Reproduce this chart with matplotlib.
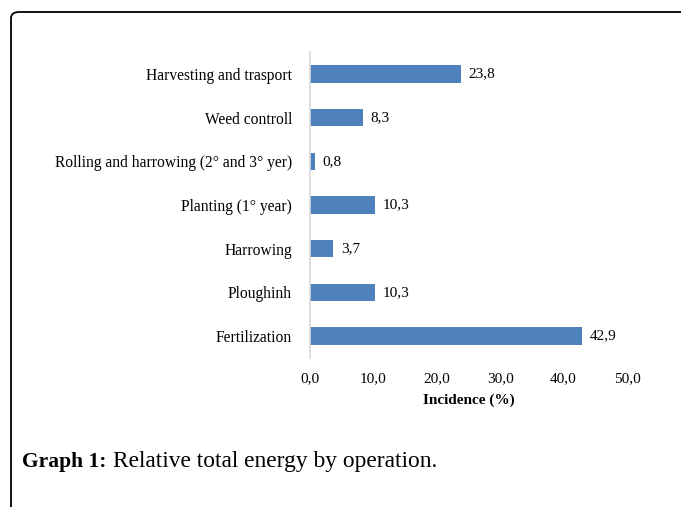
import matplotlib.pyplot as plt
from matplotlib.patches import FancyBboxPatch

# data, bottom to top as drawn
operations = ['Fertilization', 'Ploughinh', 'Harrowing', 'Planting (1° year)',
              'Rolling and harrowing (2° and 3° yer)', 'Weed controll',
              'Harvesting and trasport']
incidence = [42.9, 10.3, 3.7, 10.3, 0.8, 8.3, 23.8]
x_ticks = [0, 10, 20, 30, 40, 50]

plt.rcParams['font.family'] = ['Liberation Serif', 'DejaVu Serif']

W, H = 681, 507
fig = plt.figure(figsize=(W / 100, H / 100), dpi=100)

# rounded frame around the figure, cut off at right and bottom
frame = FancyBboxPatch((11 / W, -0.2), 1.2, 1 - 12 / H + 0.2,
                       boxstyle='round,pad=0,rounding_size=0.012',
                       transform=fig.transFigure, fill=False,
                       edgecolor='black', linewidth=1.3)
fig.patches.append(frame)

ax = fig.add_axes([310 / W, 1 - 358 / H, (627 - 310) / W, (358 - 52) / H])
pos = range(len(operations))
ax.barh(pos, incidence, height=0.4, color='#4F81BD')
for p, v in zip(pos, incidence):
    ax.text(v + 1.2, p, f'{v:.1f}'.replace('.', ','), va='center',
            ha='left', fontsize=11)

ax.set_xlim(0, 50)
ax.set_ylim(-0.5, len(operations) - 0.5)
ax.set_yticks(list(pos))
ax.set_yticklabels(operations, fontsize=11.2)
ax.set_xticks(x_ticks)
ax.set_xticklabels([f'{t:.1f}'.replace('.', ',') for t in x_ticks], fontsize=11)
ax.tick_params(length=0, pad=13, axis='y')
ax.tick_params(length=0, pad=10, axis='x')
for s in ['top', 'right', 'bottom']:
    ax.spines[s].set_visible(False)
ax.spines['left'].set_color('#D9D9D9')
ax.spines['left'].set_linewidth(1.2)
ax.set_xlabel('Incidence (%)', fontsize=11, fontweight='bold', labelpad=6)

fig.text(22 / W, 1 - 462 / H, 'Graph 1:', fontsize=15.5, fontweight='bold',
         va='center', ha='left')
fig.text(113 / W, 1 - 462 / H, 'Relative total energy by operation.',
         fontsize=16.8, va='center', ha='left')

fig.savefig('out.png', dpi=100)
